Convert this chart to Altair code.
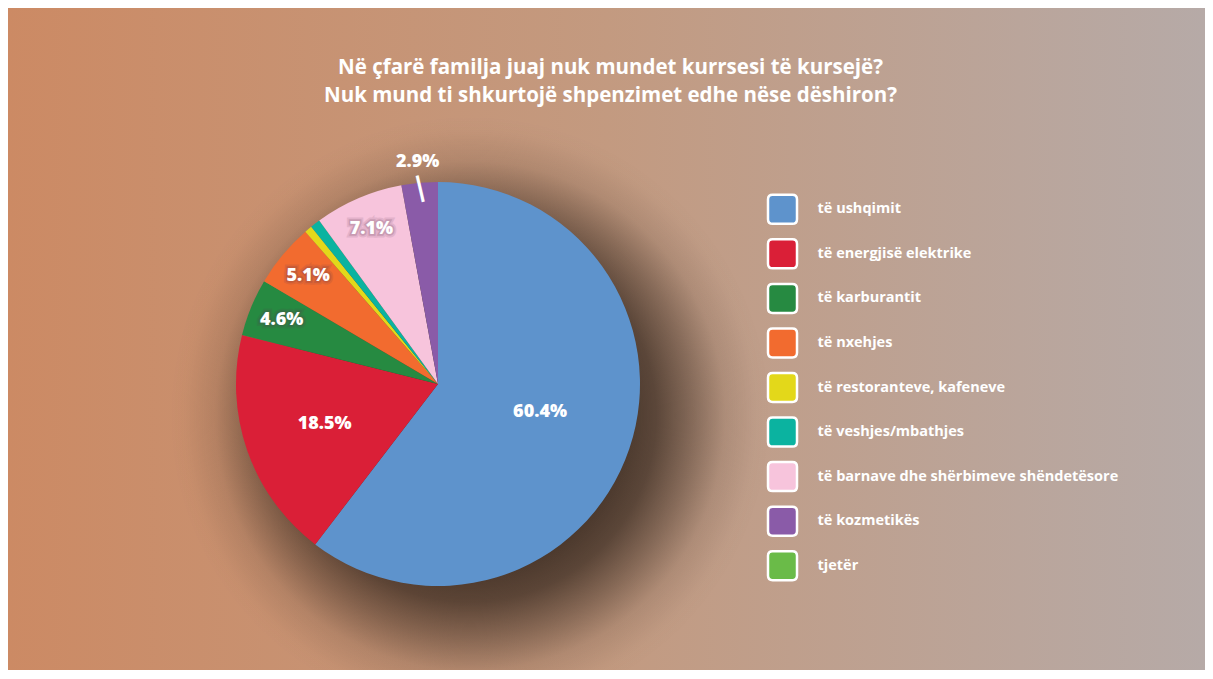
import altair as alt
import pandas as pd
import numpy as np

# ---- data ----
categories = [
    "të ushqimit",
    "të energjisë elektrike",
    "të karburantit",
    "të nxehjes",
    "të restoranteve, kafeneve",
    "të veshjes/mbathjes",
    "të barnave dhe shërbimeve shëndetësore",
    "të kozmetikës",
    "tjetër",
]
values = [60.4, 18.5, 4.6, 5.1, 0.6, 0.8, 7.1, 2.9, 0.0]
colors = ["#5e93cc", "#da1f37", "#268a41", "#f26b2f", "#e3d81a",
          "#0bb3a0", "#f7c4dc", "#8a5ba8", "#6abb48"]
title_lines = [
    "Në çfarë familja juaj nuk mundet kurrsesi të kursejë?",
    "Nuk mund ti shkurtojë shpenzimet edhe nëse dëshiron?",
]

df = pd.DataFrame({"cat": categories, "value": values, "order": list(range(len(categories)))})
one = pd.DataFrame({"k": [0]})

W, H = 1197, 662
CX, CY, R = 430, 376, 202
FONT = "Open Sans"

color_scale = alt.Scale(domain=categories, range=colors)

bg = alt.Chart(one).mark_rect(
    fill=alt.Gradient(
        gradient="linear",
        stops=[
            alt.GradientStop(offset=0, color="#cc8a64"),
            alt.GradientStop(offset=0.5, color="#c39a80"),
            alt.GradientStop(offset=1, color="#b6aaa7"),
        ],
        x1=0, x2=1, y1=0, y2=0,
    )
).encode(x=alt.value(0), x2=alt.value(W), y=alt.value(0), y2=alt.value(H))

shadow = alt.Chart(one).mark_arc(
    radius=300, theta=0, theta2=2 * np.pi,
    fill=alt.Gradient(
        gradient="radial",
        stops=[
            alt.GradientStop(offset=0, color="rgba(42,30,22,0.82)"),
            alt.GradientStop(offset=0.5, color="rgba(42,30,22,0.8)"),
            alt.GradientStop(offset=0.62, color="rgba(42,30,22,0.68)"),
            alt.GradientStop(offset=0.74, color="rgba(42,30,22,0.4)"),
            alt.GradientStop(offset=0.85, color="rgba(42,30,22,0.13)"),
            alt.GradientStop(offset=0.95, color="rgba(42,30,22,0.02)"),
            alt.GradientStop(offset=1, color="rgba(42,30,22,0)"),
        ],
        x1=0.5, y1=0.5, r1=0, x2=0.5, y2=0.5, r2=0.5,
    ),
).encode(x=alt.value(CX + 32), y=alt.value(CY + 32))

base = alt.Chart(df).encode(
    theta=alt.Theta("value:Q", stack=True),
    order=alt.Order("order:Q"),
    x=alt.value(CX),
    y=alt.value(CY),
)

pie = base.mark_arc(radius=R).encode(
    color=alt.Color("cat:N", scale=color_scale, legend=None)
)

label_expr = "format(datum.value, '.1f') + '%'"

def label_layer(cond, radius, halo=False, dx=0, dy=0):
    layers = []
    t = base.transform_calculate(lbl=f"({cond}) ? {label_expr} : ''").encode(
        detail="cat:N", text="lbl:N"
    )
    common = dict(radius=radius, font=FONT, fontSize=18, fontWeight=800, dx=dx, dy=dy)
    if halo:
        layers.append(t.mark_text(fill="#5a3550", stroke="#5a3550", strokeWidth=7,
                                  opacity=0.12, **common))
        layers.append(t.mark_text(fill="#5a3550", stroke="#5a3550", strokeWidth=3.5,
                                  opacity=0.18, **common))
    layers.append(t.mark_text(fill="white", **common))
    return layers

huge = label_layer("datum.value > 50", 112, dx=-4, dy=-8)
big = label_layer("datum.value > 15 && datum.value <= 50", 120)
mid = label_layer("datum.value >= 4 && datum.value <= 15", 169, halo=True)
outer = label_layer("datum.value >= 2 && datum.value < 4", 223)

leader = base.transform_calculate(
    tick="(datum.value >= 2 && datum.value < 4) ? '|' : ''"
).mark_text(radius=197, font="DejaVu Sans", fontSize=27, fontWeight=700,
            fill="white", angle=347, baseline="middle").encode(detail="cat:N", text="tick:N")

rounded = ("M -0.68,-1 L 0.68,-1 Q 1,-1 1,-0.68 L 1,0.68 Q 1,1 0.68,1 "
           "L -0.68,1 Q -1,1 -1,0.68 L -1,-0.68 Q -1,-1 -0.68,-1 Z")

leg = alt.Chart(df).encode(
    y=alt.Y("cat:N", sort=categories,
            scale=alt.Scale(type="point", domain=categories, range=[201.3, 557.7], padding=0),
            axis=None)
)
leg_sym = leg.mark_point(shape=rounded, size=841, filled=True, stroke="white",
                         strokeWidth=2.5, opacity=1, fillOpacity=1).encode(
    x=alt.value(774.5),
    color=alt.Color("cat:N", scale=color_scale, legend=None),
)
leg_txt = leg.mark_text(align="left", baseline="middle", font=FONT, fontSize=14.5,
                        fontWeight=700, color="white").encode(
    x=alt.value(809.5), text="cat:N"
)

title = alt.Chart(one).mark_text(
    text=title_lines, font=FONT, fontSize=20.5, fontWeight=700, color="white",
    align="center", baseline="alphabetic", lineHeight=28,
).encode(x=alt.value(602.5), y=alt.value(66))

chart = alt.layer(
    bg, shadow, pie, *huge, *big, *mid, *outer, leader, leg_sym, leg_txt, title
).properties(
    width=W, height=H, padding=0,
    autosize=alt.AutoSizeParams(type="none"),
).configure_view(strokeWidth=0)

chart.save("out.html", embed_options={"renderer": "svg", "actions": False})
